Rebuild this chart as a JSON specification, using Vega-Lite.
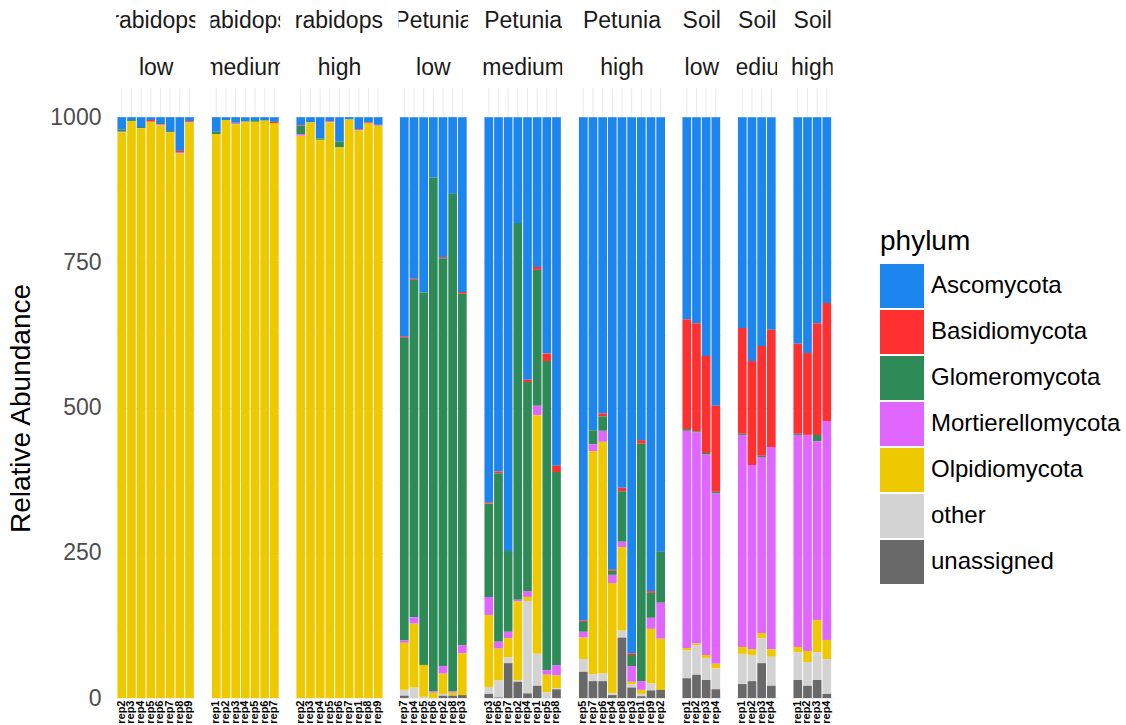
{
"$schema": "https://vega.github.io/schema/vega-lite/v6.json",
"padding": {"left": 7, "top": 1, "right": 0, "bottom": 0},
"config": {"font": "Liberation Sans", "view": {"stroke": null}},
"data": {"values": [
{"host":"Arabidopsis","level":"low","panel":"Arabidopsis low","rep":"rep2","Ascomycota":21,"Glomeromycota":4,"Mortierellomycota":1,"Olpidiomycota":974},
{"host":"Arabidopsis","level":"low","panel":"Arabidopsis low","rep":"rep3","Ascomycota":5,"Glomeromycota":2,"Olpidiomycota":993},
{"host":"Arabidopsis","level":"low","panel":"Arabidopsis low","rep":"rep4","Ascomycota":17,"Glomeromycota":2,"Olpidiomycota":981},
{"host":"Arabidopsis","level":"low","panel":"Arabidopsis low","rep":"rep5","Ascomycota":5,"Basidiomycota":3,"Olpidiomycota":992},
{"host":"Arabidopsis","level":"low","panel":"Arabidopsis low","rep":"rep6","Ascomycota":10,"Glomeromycota":2,"Mortierellomycota":2,"Olpidiomycota":986},
{"host":"Arabidopsis","level":"low","panel":"Arabidopsis low","rep":"rep7","Ascomycota":24,"Glomeromycota":2,"Olpidiomycota":974},
{"host":"Arabidopsis","level":"low","panel":"Arabidopsis low","rep":"rep8","Ascomycota":58,"Basidiomycota":2,"Mortierellomycota":2,"Olpidiomycota":938},
{"host":"Arabidopsis","level":"low","panel":"Arabidopsis low","rep":"rep9","Ascomycota":7,"Basidiomycota":2,"Olpidiomycota":991},
{"host":"Arabidopsis","level":"medium","panel":"Arabidopsis medium","rep":"rep1","Ascomycota":25,"Glomeromycota":4,"Olpidiomycota":971},
{"host":"Arabidopsis","level":"medium","panel":"Arabidopsis medium","rep":"rep2","Ascomycota":5,"Olpidiomycota":995},
{"host":"Arabidopsis","level":"medium","panel":"Arabidopsis medium","rep":"rep3","Ascomycota":9,"Glomeromycota":1,"Mortierellomycota":2,"Olpidiomycota":988},
{"host":"Arabidopsis","level":"medium","panel":"Arabidopsis medium","rep":"rep4","Ascomycota":7,"Glomeromycota":1,"Olpidiomycota":992},
{"host":"Arabidopsis","level":"medium","panel":"Arabidopsis medium","rep":"rep5","Ascomycota":5,"Glomeromycota":3,"Olpidiomycota":992},
{"host":"Arabidopsis","level":"medium","panel":"Arabidopsis medium","rep":"rep6","Ascomycota":5,"Glomeromycota":1,"Olpidiomycota":994},
{"host":"Arabidopsis","level":"medium","panel":"Arabidopsis medium","rep":"rep7","Ascomycota":8,"Basidiomycota":2,"Olpidiomycota":990},
{"host":"Arabidopsis","level":"high","panel":"Arabidopsis high","rep":"rep2","Ascomycota":14,"Basidiomycota":1,"Glomeromycota":14,"Mortierellomycota":3,"Olpidiomycota":968},
{"host":"Arabidopsis","level":"high","panel":"Arabidopsis high","rep":"rep3","Ascomycota":9,"Olpidiomycota":991},
{"host":"Arabidopsis","level":"high","panel":"Arabidopsis high","rep":"rep4","Ascomycota":37,"Glomeromycota":2,"Olpidiomycota":961},
{"host":"Arabidopsis","level":"high","panel":"Arabidopsis high","rep":"rep5","Ascomycota":7,"Basidiomycota":1,"Mortierellomycota":1,"Olpidiomycota":991},
{"host":"Arabidopsis","level":"high","panel":"Arabidopsis high","rep":"rep6","Ascomycota":42,"Glomeromycota":10,"Olpidiomycota":948},
{"host":"Arabidopsis","level":"high","panel":"Arabidopsis high","rep":"rep7","Ascomycota":4,"Olpidiomycota":996},
{"host":"Arabidopsis","level":"high","panel":"Arabidopsis high","rep":"rep1","Ascomycota":21,"Basidiomycota":1,"Mortierellomycota":1,"Olpidiomycota":977},
{"host":"Arabidopsis","level":"high","panel":"Arabidopsis high","rep":"rep8","Ascomycota":9,"Basidiomycota":2,"Olpidiomycota":989},
{"host":"Arabidopsis","level":"high","panel":"Arabidopsis high","rep":"rep9","Ascomycota":13,"Glomeromycota":1,"Mortierellomycota":1,"Olpidiomycota":985},
{"host":"Petunia","level":"low","panel":"Petunia low","rep":"rep7","Ascomycota":378,"Basidiomycota":2,"Glomeromycota":521,"Mortierellomycota":4,"Olpidiomycota":81,"other":10,"unassigned":4},
{"host":"Petunia","level":"low","panel":"Petunia low","rep":"rep4","Ascomycota":278,"Basidiomycota":2,"Glomeromycota":581,"Mortierellomycota":11,"Olpidiomycota":110,"other":18},
{"host":"Petunia","level":"low","panel":"Petunia low","rep":"rep5","Ascomycota":302,"Glomeromycota":641,"Olpidiomycota":55,"other":2},
{"host":"Petunia","level":"low","panel":"Petunia low","rep":"rep6","Ascomycota":104,"Glomeromycota":885,"Mortierellomycota":2,"Olpidiomycota":9},
{"host":"Petunia","level":"low","panel":"Petunia low","rep":"rep2","Ascomycota":241,"Basidiomycota":2,"Glomeromycota":702,"Mortierellomycota":13,"Olpidiomycota":35,"other":3,"unassigned":4},
{"host":"Petunia","level":"low","panel":"Petunia low","rep":"rep8","Ascomycota":132,"Glomeromycota":857,"Mortierellomycota":2,"Olpidiomycota":5,"unassigned":4},
{"host":"Petunia","level":"low","panel":"Petunia low","rep":"rep3","Ascomycota":301,"Basidiomycota":3,"Glomeromycota":605,"Mortierellomycota":14,"Olpidiomycota":72,"unassigned":5},
{"host":"Petunia","level":"medium","panel":"Petunia medium","rep":"rep3","Ascomycota":663,"Basidiomycota":2,"Glomeromycota":161,"Mortierellomycota":31,"Olpidiomycota":124,"other":12,"unassigned":7},
{"host":"Petunia","level":"medium","panel":"Petunia medium","rep":"rep6","Ascomycota":610,"Basidiomycota":3,"Glomeromycota":290,"Mortierellomycota":12,"Olpidiomycota":55,"other":29,"unassigned":1},
{"host":"Petunia","level":"medium","panel":"Petunia medium","rep":"rep7","Ascomycota":747,"Glomeromycota":139,"Mortierellomycota":11,"Olpidiomycota":33,"other":10,"unassigned":60},
{"host":"Petunia","level":"medium","panel":"Petunia medium","rep":"rep2","Ascomycota":182,"Glomeromycota":649,"Mortierellomycota":3,"Olpidiomycota":136,"other":2,"unassigned":28},
{"host":"Petunia","level":"medium","panel":"Petunia medium","rep":"rep4","Ascomycota":452,"Basidiomycota":4,"Glomeromycota":360,"Mortierellomycota":10,"Olpidiomycota":7,"other":159,"unassigned":8},
{"host":"Petunia","level":"medium","panel":"Petunia medium","rep":"rep1","Ascomycota":258,"Basidiomycota":5,"Glomeromycota":234,"Mortierellomycota":16,"Olpidiomycota":411,"other":55,"unassigned":21},
{"host":"Petunia","level":"medium","panel":"Petunia medium","rep":"rep5","Ascomycota":407,"Basidiomycota":13,"Glomeromycota":532,"Mortierellomycota":8,"Olpidiomycota":30,"other":10},
{"host":"Petunia","level":"medium","panel":"Petunia medium","rep":"rep8","Ascomycota":600,"Basidiomycota":11,"Glomeromycota":333,"Mortierellomycota":17,"Olpidiomycota":22,"other":2,"unassigned":15},
{"host":"Petunia","level":"high","panel":"Petunia high","rep":"rep5","Ascomycota":867,"Basidiomycota":2,"Glomeromycota":17,"Mortierellomycota":10,"Olpidiomycota":37,"other":22,"unassigned":45},
{"host":"Petunia","level":"high","panel":"Petunia high","rep":"rep7","Ascomycota":539,"Glomeromycota":24,"Mortierellomycota":12,"Olpidiomycota":384,"other":12,"unassigned":29},
{"host":"Petunia","level":"high","panel":"Petunia high","rep":"rep6","Ascomycota":510,"Basidiomycota":5,"Glomeromycota":25,"Mortierellomycota":19,"Olpidiomycota":399,"other":13,"unassigned":29},
{"host":"Petunia","level":"high","panel":"Petunia high","rep":"rep4","Ascomycota":779,"Basidiomycota":2,"Glomeromycota":7,"Mortierellomycota":14,"Olpidiomycota":190,"other":3,"unassigned":5},
{"host":"Petunia","level":"high","panel":"Petunia high","rep":"rep8","Ascomycota":638,"Basidiomycota":6,"Glomeromycota":87,"Mortierellomycota":9,"Olpidiomycota":144,"other":12,"unassigned":104},
{"host":"Petunia","level":"high","panel":"Petunia high","rep":"rep3","Ascomycota":923,"Basidiomycota":3,"Glomeromycota":19,"Mortierellomycota":27,"Olpidiomycota":4,"other":6,"unassigned":18},
{"host":"Petunia","level":"high","panel":"Petunia high","rep":"rep1","Ascomycota":556,"Basidiomycota":6,"Glomeromycota":409,"Mortierellomycota":15,"Olpidiomycota":7,"other":4,"unassigned":3},
{"host":"Petunia","level":"high","panel":"Petunia high","rep":"rep9","Ascomycota":816,"Basidiomycota":3,"Glomeromycota":43,"Mortierellomycota":19,"Olpidiomycota":94,"other":12,"unassigned":13},
{"host":"Petunia","level":"high","panel":"Petunia high","rep":"rep2","Ascomycota":748,"Glomeromycota":88,"Mortierellomycota":62,"Olpidiomycota":88,"unassigned":14},
{"host":"Soil","level":"low","panel":"Soil low","rep":"rep1","Ascomycota":348,"Basidiomycota":189,"Glomeromycota":3,"Mortierellomycota":374,"Olpidiomycota":4,"other":48,"unassigned":34},
{"host":"Soil","level":"low","panel":"Soil low","rep":"rep2","Ascomycota":355,"Basidiomycota":186,"Glomeromycota":2,"Mortierellomycota":363,"Olpidiomycota":3,"other":51,"unassigned":40},
{"host":"Soil","level":"low","panel":"Soil low","rep":"rep3","Ascomycota":411,"Basidiomycota":167,"Glomeromycota":3,"Mortierellomycota":345,"Olpidiomycota":5,"other":38,"unassigned":31},
{"host":"Soil","level":"low","panel":"Soil low","rep":"rep4","Ascomycota":497,"Basidiomycota":148,"Glomeromycota":3,"Mortierellomycota":293,"Olpidiomycota":8,"other":36,"unassigned":15},
{"host":"Soil","level":"medium","panel":"Soil medium","rep":"rep1","Ascomycota":363,"Basidiomycota":182,"Glomeromycota":2,"Mortierellomycota":365,"Olpidiomycota":12,"other":52,"unassigned":24},
{"host":"Soil","level":"medium","panel":"Soil medium","rep":"rep2","Ascomycota":420,"Basidiomycota":179,"Mortierellomycota":317,"Olpidiomycota":10,"other":45,"unassigned":29},
{"host":"Soil","level":"medium","panel":"Soil medium","rep":"rep3","Ascomycota":394,"Basidiomycota":189,"Glomeromycota":2,"Mortierellomycota":303,"Olpidiomycota":9,"other":43,"unassigned":60},
{"host":"Soil","level":"medium","panel":"Soil medium","rep":"rep4","Ascomycota":366,"Basidiomycota":202,"Mortierellomycota":348,"Olpidiomycota":13,"other":50,"unassigned":21},
{"host":"Soil","level":"high","panel":"Soil high","rep":"rep1","Ascomycota":390,"Basidiomycota":155,"Glomeromycota":2,"Mortierellomycota":365,"Olpidiomycota":9,"other":48,"unassigned":31},
{"host":"Soil","level":"high","panel":"Soil high","rep":"rep2","Ascomycota":406,"Basidiomycota":141,"Mortierellomycota":372,"Olpidiomycota":19,"other":41,"unassigned":21},
{"host":"Soil","level":"high","panel":"Soil high","rep":"rep3","Ascomycota":355,"Basidiomycota":192,"Glomeromycota":11,"Mortierellomycota":308,"Olpidiomycota":55,"other":48,"unassigned":31},
{"host":"Soil","level":"high","panel":"Soil high","rep":"rep4","Ascomycota":320,"Basidiomycota":203,"Mortierellomycota":377,"Olpidiomycota":33,"other":60,"unassigned":7}
]},
"facet": {"column": {"field": "panel", "type": "nominal",
  "sort": ["Arabidopsis low","Arabidopsis medium","Arabidopsis high","Petunia low","Petunia medium","Petunia high","Soil low","Soil medium","Soil high"],
  "header": {"title": null, "labels": false, "labelPadding": 0, "titlePadding": 0}}},
"spacing": 13.5,
"resolve": {"scale": {"x": "independent"}},
"spec": {
  "width": {"step": 9.67},
  "height": 697,
  "layer": [
    {"mark": {"type": "rule", "color": "#ebebeb", "strokeWidth": 1.1},
     "encoding": {
       "x": {"field": "rep", "type": "nominal", "sort": null, "scale": {"paddingInner": 0.1, "paddingOuter": 0.15},
             "axis": {"title": null, "labelAngle": -90, "labelFontSize": 11, "labelFontWeight": "bold", "labelColor": "#000000", "labelPadding": 2, "ticks": false, "domain": false, "grid": false, "labelOverlap": false, "labelBound": false}},
       "y": {"datum": 0, "type": "quantitative"},
       "y2": {"datum": 1050}}},
    {"transform": [{"fold": ["Ascomycota","Basidiomycota","Glomeromycota","Mortierellomycota","Olpidiomycota","other","unassigned"], "as": ["phylum","value"]},
                   {"filter": "datum.value > 0"}],
     "mark": {"type": "bar"},
     "encoding": {
       "x": {"field": "rep", "type": "nominal", "sort": null, "scale": {"paddingInner": 0.1, "paddingOuter": 0.15},
             "axis": {"title": null, "labelAngle": -90, "labelFontSize": 11, "labelFontWeight": "bold", "labelColor": "#000000", "labelPadding": 2, "ticks": false, "domain": false, "grid": false, "labelOverlap": false, "labelBound": false}},
       "y": {"field": "value", "type": "quantitative", "stack": "zero",
             "scale": {"domain": [0, 1200], "nice": false, "zero": true},
             "axis": {"values": [0,125,250,375,500,625,750,875,1000], "format": "d",
                      "labelExpr": "datum.value % 250 == 0 ? datum.label : ''",
                      "grid": true, "gridColor": "#ebebeb",
                      "gridWidth": {"condition": {"test": "datum.value % 250 == 0", "value": 1.1}, "value": 0.55},
                      "ticks": false, "domain": false, "labelFontSize": 23, "labelColor": "#4d4d4d", "labelPadding": 14, "labelOverlap": false,
                      "title": "Relative Abundance", "titleFontSize": 28, "titleFontWeight": "normal", "titleColor": "#000000",
                      "titleAngle": -90, "titleX": -94, "titleY": 407, "titleAlign": "center", "titleBaseline": "middle"}},
       "color": {"field": "phylum", "type": "nominal",
         "scale": {"domain": ["Ascomycota","Basidiomycota","Glomeromycota","Mortierellomycota","Olpidiomycota","other","unassigned"],
                   "range": ["#1C86EE","#FF3030","#2E8B57","#E066FF","#EEC900","#D3D3D3","#696969"]},
         "legend": {"title": "phylum", "orient": "none", "legendX": 764, "legendY": 227,
                    "titleFontSize": 28, "titleFontWeight": "normal", "titleColor": "#000000", "titlePadding": 8,
                    "labelFontSize": 24, "labelColor": "#000000", "labelLimit": 300, "labelOffset": 7,
                    "symbolType": "square", "symbolSize": 1936, "symbolStrokeWidth": 0, "symbolOpacity": 1, "rowPadding": 2}}}},
    {"transform": [{"window": [{"op": "row_number", "as": "i"}], "groupby": ["panel"]},
                   {"joinaggregate": [{"op": "count", "as": "n"}], "groupby": ["panel"]},
                   {"filter": "datum.n % 2 == 1 && datum.i == floor(datum.n / 2) + 1"}],
     "mark": {"type": "text", "clip": true, "fontSize": 23, "color": "#1a1a1a", "baseline": "alphabetic", "align": "center"},
     "encoding": {"x": {"field": "rep", "type": "nominal", "sort": null, "bandPosition": 0.5},
                  "text": {"field": "host"}, "y": {"datum": 1153.5, "type": "quantitative"}}},
    {"transform": [{"window": [{"op": "row_number", "as": "i"}], "groupby": ["panel"]},
                   {"joinaggregate": [{"op": "count", "as": "n"}], "groupby": ["panel"]},
                   {"filter": "datum.n % 2 == 0 && datum.i == datum.n / 2 + 1"}],
     "mark": {"type": "text", "clip": true, "fontSize": 23, "color": "#1a1a1a", "baseline": "alphabetic", "align": "center"},
     "encoding": {"x": {"field": "rep", "type": "nominal", "sort": null, "bandPosition": 0},
                  "text": {"field": "host"}, "y": {"datum": 1153.5, "type": "quantitative"}}},
    {"transform": [{"window": [{"op": "row_number", "as": "i"}], "groupby": ["panel"]},
                   {"joinaggregate": [{"op": "count", "as": "n"}], "groupby": ["panel"]},
                   {"filter": "datum.n % 2 == 1 && datum.i == floor(datum.n / 2) + 1"}],
     "mark": {"type": "text", "clip": true, "fontSize": 23, "color": "#1a1a1a", "baseline": "alphabetic", "align": "center"},
     "encoding": {"x": {"field": "rep", "type": "nominal", "sort": null, "bandPosition": 0.5},
                  "text": {"field": "level"}, "y": {"datum": 1072.5, "type": "quantitative"}}},
    {"transform": [{"window": [{"op": "row_number", "as": "i"}], "groupby": ["panel"]},
                   {"joinaggregate": [{"op": "count", "as": "n"}], "groupby": ["panel"]},
                   {"filter": "datum.n % 2 == 0 && datum.i == datum.n / 2 + 1"}],
     "mark": {"type": "text", "clip": true, "fontSize": 23, "color": "#1a1a1a", "baseline": "alphabetic", "align": "center"},
     "encoding": {"x": {"field": "rep", "type": "nominal", "sort": null, "bandPosition": 0},
                  "text": {"field": "level"}, "y": {"datum": 1072.5, "type": "quantitative"}}}
  ]
}
}
